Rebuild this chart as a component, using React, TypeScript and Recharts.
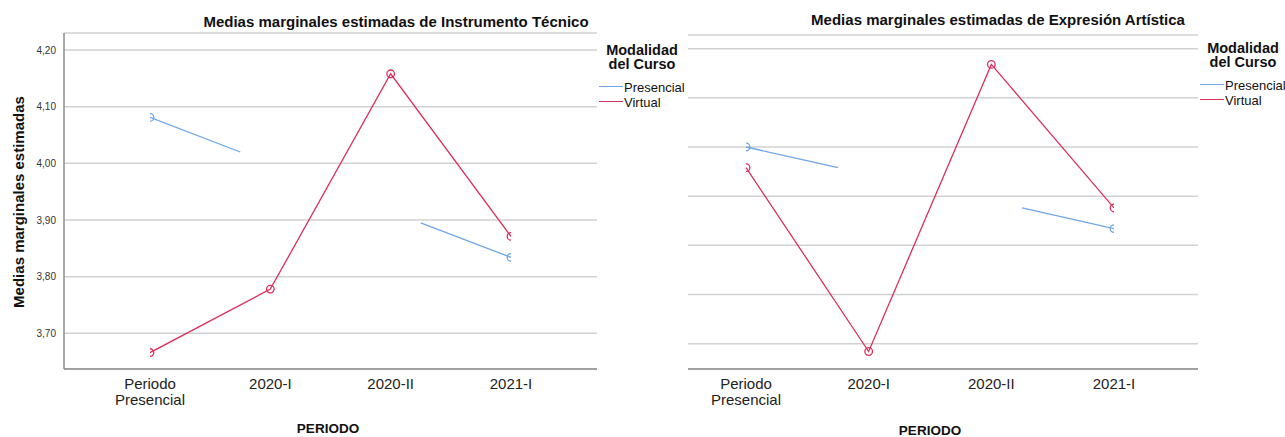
import React from 'react'
import { LineChart, Line, XAxis, YAxis, CartesianGrid } from 'recharts'

// categorías del eje X (posición numérica 0..3)
const categorias = ['Periodo Presencial', '2020-I', '2020-II', '2021-I']
const posCategorias = [0, 1, 2, 3]

// Instrumento Técnico: Presencial se dibuja en dos tramos parciales (SPSS)
const itPresencialTramo1 = [{ x: 0, y: 4.081 }, { x: 0.75, y: 4.02 }]
const itPresencialTramo2 = [{ x: 2.25, y: 3.895 }, { x: 3, y: 3.834 }]
const itVirtual = [{ x: 0, y: 3.666 }, { x: 1, y: 3.778 }, { x: 2, y: 4.158 }, { x: 3, y: 3.871 }]
const itTicks = [3.7, 3.8, 3.9, 4.0, 4.1, 4.2]
const itDominio: [number, number] = [3.637, 4.2265]

// Expresión Artística (eje Y sin etiquetas)
const eaPresencialTramo1 = [{ x: 0, y: 3.8 }, { x: 0.75, y: 3.779 }]
const eaPresencialTramo2 = [{ x: 2.25, y: 3.738 }, { x: 3, y: 3.717 }]
const eaVirtual = [{ x: 0, y: 3.779 }, { x: 1, y: 3.592 }, { x: 2, y: 3.884 }, { x: 3, y: 3.738 }]
const eaTicks = [3.6, 3.65, 3.7, 3.75, 3.8, 3.85, 3.9]
const eaDominio: [number, number] = [3.5742, 3.9139]

const AZUL = '#6fa6e6'
const ROJO = '#dc2f5b'
const FUENTE = "'Liberation Sans', Arial, sans-serif"
const EJE = { stroke: '#8c8c8c', strokeWidth: 1.5 }

const punto = (color: string) => (props: any) => {
  const { cx, cy, payload, index } = props
  if (!Number.isInteger(payload.x)) return <g key={index} />
  return <circle key={index} cx={cx} cy={cy} r={3.8} fill="none" stroke={color} strokeWidth={1.3} />
}

function TickCat(props: any) {
  const { x, y, payload } = props
  const lineas = categorias[payload.value].split(' ')
  return (
    <text x={x} y={y} textAnchor="middle" fontSize={15} fill="#222" fontFamily={FUENTE}>
      {lineas.map((l, i) => (
        <tspan key={i} x={x} dy={i === 0 ? 12 : 15.5}>{l}</tspan>
      ))}
    </text>
  )
}

function Texto({ x, y, size, bold, children, anchor = 'center' }: any) {
  return (
    <div style={{
      position: 'absolute', left: x, top: y, fontSize: size, fontWeight: bold ? 700 : 400, lineHeight: 1,
      whiteSpace: 'nowrap', color: '#111', transform: anchor === 'center' ? 'translate(-50%,-50%)' : 'translate(0,-50%)',
    }}>{children}</div>
  )
}

function Leyenda({ x, y }: { x: number; y: number }) {
  const items = [{ n: 'Presencial', c: AZUL, dy: 0 }, { n: 'Virtual', c: ROJO, dy: 15 }]
  return (
    <>
      <div style={{
        position: 'absolute', left: x + 43, top: y - 30, transform: 'translate(-50%,-50%)', textAlign: 'center',
        fontSize: 14.5, fontWeight: 700, lineHeight: '14px', color: '#111', whiteSpace: 'nowrap',
      }}>Modalidad<br />del Curso</div>
      {items.map(it => (
        <React.Fragment key={it.n}>
          <div style={{ position: 'absolute', left: x, top: y + it.dy - 0.75, width: 24, height: 1.5, background: it.c }} />
          <Texto x={x + 25} y={y + it.dy} size={13} anchor="left">{it.n}</Texto>
        </React.Fragment>
      ))}
    </>
  )
}

export default function App() {
  return (
    <div style={{ position: 'absolute', left: 0, top: 0, width: 1285, height: 437, background: '#fff', fontFamily: FUENTE }}>
      <Texto x={396} y={21} size={15} bold>Medias marginales estimadas de Instrumento Técnico</Texto>
      <Texto x={998} y={19} size={15} bold>Medias marginales estimadas de Expresión Artística</Texto>
      <Texto x={328} y={429} size={13.5} bold>PERIODO</Texto>
      <Texto x={930} y={431} size={13.5} bold>PERIODO</Texto>
      <div style={{
        position: 'absolute', left: 18, top: 202, fontSize: 15, fontWeight: 700, lineHeight: 1, whiteSpace: 'nowrap',
        color: '#111', transform: 'translate(-50%,-50%) rotate(-90deg)',
      }}>Medias marginales estimadas</div>
      <Leyenda x={599} y={86.5} />
      <Leyenda x={1200} y={84.5} />

      <div style={{ position: 'absolute', left: 0, top: 0 }}>
        <LineChart width={640} height={437} margin={{ top: 33, right: 43, bottom: 28, left: 0 }}>
          <CartesianGrid vertical={false} stroke="#d2d2d2" strokeWidth={1.5} />
          <XAxis type="number" dataKey="x" domain={[0, 3]} ticks={posCategorias} padding={{ left: 86, right: 86 }}
            tickLine={false} axisLine={EJE} height={40} interval={0} tick={<TickCat />} allowDataOverflow />
          <YAxis type="number" domain={[3.637, 4.23]} ticks={itTicks} width={64} tickLine={false} axisLine={EJE}
            tickFormatter={(v: number) => v.toFixed(2).replace('.', ',')} allowDataOverflow
            tick={{ fontSize: 10, fill: '#333', fontFamily: FUENTE }} />
          <Line data={itPresencialTramo1} dataKey="y" type="linear" stroke={AZUL} strokeWidth={1.3} dot={punto(AZUL)} isAnimationActive={false} />
          <Line data={itPresencialTramo2} dataKey="y" type="linear" stroke={AZUL} strokeWidth={1.3} dot={punto(AZUL)} isAnimationActive={false} />
          <Line data={itVirtual} dataKey="y" type="linear" stroke={ROJO} strokeWidth={1.3} dot={punto(ROJO)} isAnimationActive={false} />
        </LineChart>
      </div>

      <div style={{ position: 'absolute', left: 640, top: 0 }}>
        <LineChart width={645} height={437} margin={{ top: 35, right: 87, bottom: 28, left: 0 }}>
          <CartesianGrid vertical={false} stroke="#d2d2d2" strokeWidth={1.5} />
          <XAxis type="number" dataKey="x" domain={[0, 3]} ticks={posCategorias} padding={{ left: 58, right: 84 }}
            tickLine={false} axisLine={EJE} height={40} interval={0} tick={<TickCat />} allowDataOverflow />
          <YAxis type="number" domain={eaDominio} ticks={eaTicks} width={48} tickLine={false} axisLine={false}
            tickFormatter={() => ''} allowDataOverflow />
          <Line data={eaPresencialTramo1} dataKey="y" type="linear" stroke={AZUL} strokeWidth={1.3} dot={punto(AZUL)} isAnimationActive={false} />
          <Line data={eaPresencialTramo2} dataKey="y" type="linear" stroke={AZUL} strokeWidth={1.3} dot={punto(AZUL)} isAnimationActive={false} />
          <Line data={eaVirtual} dataKey="y" type="linear" stroke={ROJO} strokeWidth={1.3} dot={punto(ROJO)} isAnimationActive={false} />
        </LineChart>
      </div>
    </div>
  )
}
